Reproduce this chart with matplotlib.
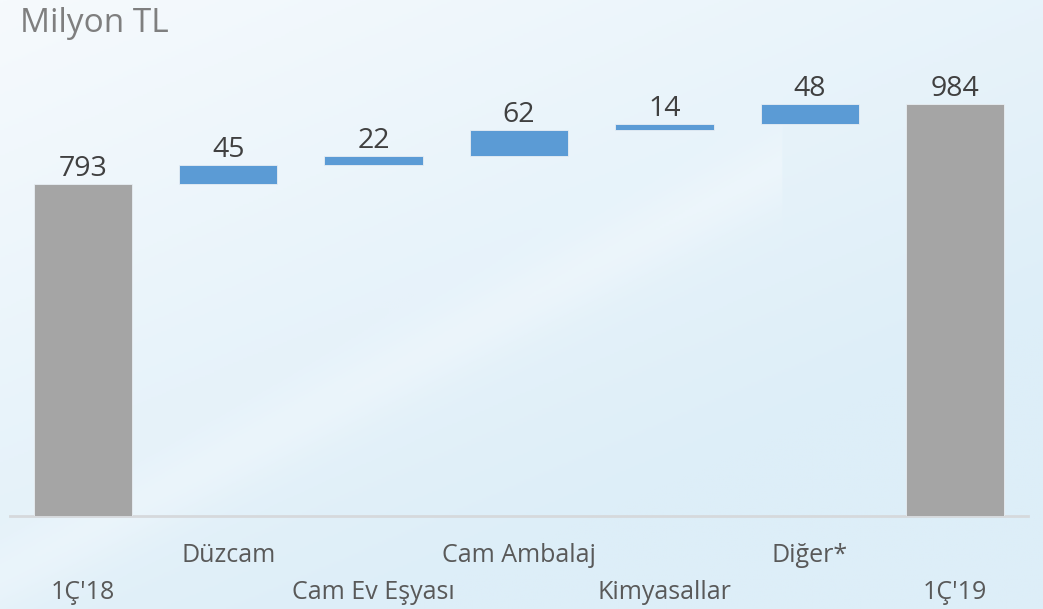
import numpy as np
import matplotlib.pyplot as plt
from matplotlib.colors import LinearSegmentedColormap

plt.rcParams['font.family'] = ['Open Sans', 'DejaVu Sans']

labels = ["1Ç'18", "Düzcam", "Cam Ev Eşyası", "Cam Ambalaj", "Kimyasallar", "Diğer*", "1Ç'19"]
start_value = 793
changes = [45, 22, 62, 14, 48]
end_value = 984

# waterfall bottoms/heights
heights = [start_value] + changes + [end_value]
bottoms = [0]
running = start_value
for c in changes:
    bottoms.append(running)
    running += c
bottoms.append(0)
colors = ['#A5A5A5'] + ['#5B9BD5'] * len(changes) + ['#A5A5A5']

fig = plt.figure(figsize=(10.43, 6.09), dpi=100)

# soft blue background with a lighter upper-left corner
bg = fig.add_axes([0, 0, 1, 1], zorder=-10)
yy, xx = np.mgrid[0:1:300j, 0:1:500j]
shade = np.clip(0.55 * (1 - xx) + 0.75 * yy - 0.35, 0, 1)
shade = shade + 0.25 * np.exp(-((yy - 0.9 * xx - 0.05) ** 2) / 0.004) * (xx < 0.75)
shade = np.clip(shade, 0, 1)
cmap = LinearSegmentedColormap.from_list('bg', ['#DDEEF8', '#F6FAFD'])
bg.imshow(shade, cmap=cmap, aspect='auto', origin='lower', extent=[0, 1, 0, 1])
bg.axis('off')

ax = fig.add_axes([10 / 1043, 93 / 609, 1018 / 1043, 456 / 609])
ax.patch.set_alpha(0)
x = np.arange(len(labels))
bars = ax.bar(x, heights, bottom=bottoms, width=0.675, color=colors,
              edgecolor='#E8EEF3', linewidth=0.6, zorder=3)

for xi, b, h in zip(x, bottoms, heights):
    ax.annotate(str(h), (xi, b + h), xytext=(0, 1), textcoords='offset points',
                ha='center', va='bottom', fontsize=20.5, color='#404040')

ax.set_xlim(-0.5, len(labels) - 0.5)
ax.set_ylim(0, 1089)
ax.set_xticks([])
ax.set_yticks([])
for s in ['top', 'right', 'left']:
    ax.spines[s].set_visible(False)
ax.spines['bottom'].set_color('#D6D9DC')
ax.spines['bottom'].set_linewidth(2)

# staggered category labels
for i, lab in enumerate(labels):
    ypos = -0.087 if i % 2 == 1 else -0.168
    ax.text(i, ypos, lab, transform=ax.get_xaxis_transform(), ha='center', va='center',
            fontsize=18, color='#595959')

fig.text(20 / 1043, 1 - 24 / 609, 'Milyon TL', ha='left', va='center',
         fontsize=24, color='#7F7F7F')

fig.savefig('out.png', dpi=100)
